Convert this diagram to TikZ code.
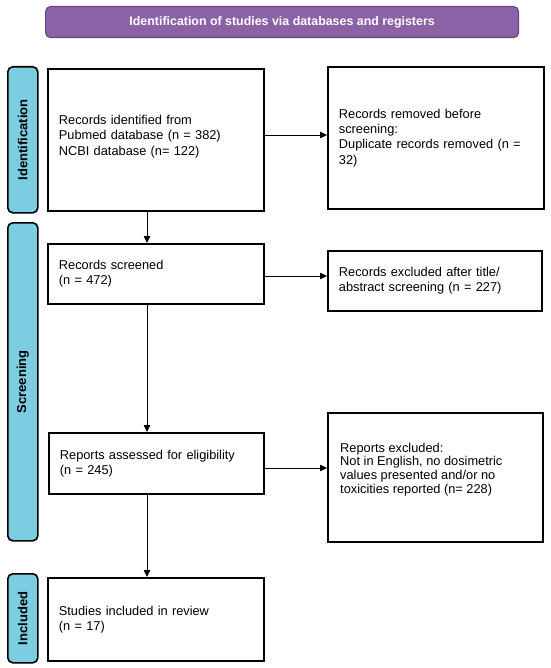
\documentclass[tikz,border=0pt]{standalone}
\usepackage{fontspec}
\setmainfont{Liberation Sans}
\usetikzlibrary{arrows.meta,positioning}
\definecolor{purplebar}{RGB}{139,98,166}
\definecolor{purpleedge}{RGB}{105,72,130}
\definecolor{sidebar}{RGB}{124,204,226}
\tikzset{
  box/.style={draw=black,line width=1.8pt,fill=white,inner xsep=11pt,inner ysep=4pt,
     align=left,font=\fontsize{12.8}{15.3}\selectfont,anchor=north west},
  txt/.style={align=left,font=\fontsize{12.8}{13.6}\selectfont,anchor=west,inner sep=0pt},
  side/.style={draw=black,line width=1.6pt,fill=sidebar,rounded corners=5pt,anchor=north west,
     minimum width=30pt},
  sidelabel/.style={rotate=90,font=\bfseries\fontsize{13}{15}\selectfont},
  arr/.style={line width=0.8pt,-{Triangle[length=7pt,width=6.5pt]}}
}
\begin{document}
\begin{tikzpicture}[x=1pt,y=-1pt]
\useasboundingbox (0,0) rectangle (550,668);
% title bar
\node[draw=purpleedge,line width=1.2pt,fill=purplebar,rounded corners=5pt,anchor=north west,
  minimum width=473pt,minimum height=31pt,text=white,font=\bfseries\fontsize{12.4}{14}\selectfont]
  (title) at (45,6) {Identification of studies via databases and registers};
% side bars
\node[side,minimum height=146pt] (sid) at (7,66) {};
\node[sidelabel] at (sid.center) {Identification};
\node[side,minimum height=318pt] (sscr) at (7,222) {};
\node[sidelabel] at (sscr.center) {Screening};
\node[side,minimum height=89pt] (sinc) at (7,573) {};
\node[sidelabel] at (sinc.center) {Included};
% boxes
\node[box,minimum width=216pt,minimum height=142pt,text width=194pt] (b1) at (47,68)
  {Records identified from\\Pubmed database (n = 382)\\NCBI database (n= 122)\\[-6pt]\mbox{}};
\node[box,minimum width=216pt,minimum height=142pt,text width=194pt] (b2) at (327,66)
  {Records removed before\\screening:\\Duplicate records removed (n =\\32)};
\node[box,minimum width=216pt,minimum height=60pt,text width=194pt] (b3) at (47,243)
  {Records screened\\(n = 472)};
\node[box,minimum width=214pt,minimum height=60pt,text width=192pt] (b4) at (327,250)
  {Records excluded after title/\\abstract screening (n = 227)};
\node[box,minimum width=215pt,minimum height=61pt,text width=193pt] (b5) at (48,432)
  {Reports assessed for eligibility\\(n = 245)};
\node[box,minimum width=215pt,minimum height=129pt] (b6) at (327,412) {};
\node[txt] (t6) at ([xshift=13pt,yshift=8pt]b6.west)
  {Reports excluded:\\Not in English, no dosimetric\\values presented and/or no\\toxicities reported (n= 228)};
\node[box,minimum width=216pt,minimum height=83pt,text width=194pt] (b7) at (47,577)
  {Studies included in review\\(n = 17)};
% connectors
\coordinate (ax) at (147,0);
\coordinate (y1) at (0,135);
\coordinate (y3) at (0,276);
\coordinate (y5) at (0,468);
\draw[arr] (b1.south -| ax) -- (b3.north -| ax);
\draw[arr] (b3.south -| ax) -- (b5.north -| ax);
\draw[arr] (b5.south -| ax) -- (b7.north -| ax);
\draw[arr] (b1.east |- y1) -- (b2.west |- y1);
\draw[arr] (b3.east |- y3) -- (b4.west |- y3);
\draw[arr] (b5.east |- y5) -- (b6.west |- y5);
\end{tikzpicture}
\end{document}
